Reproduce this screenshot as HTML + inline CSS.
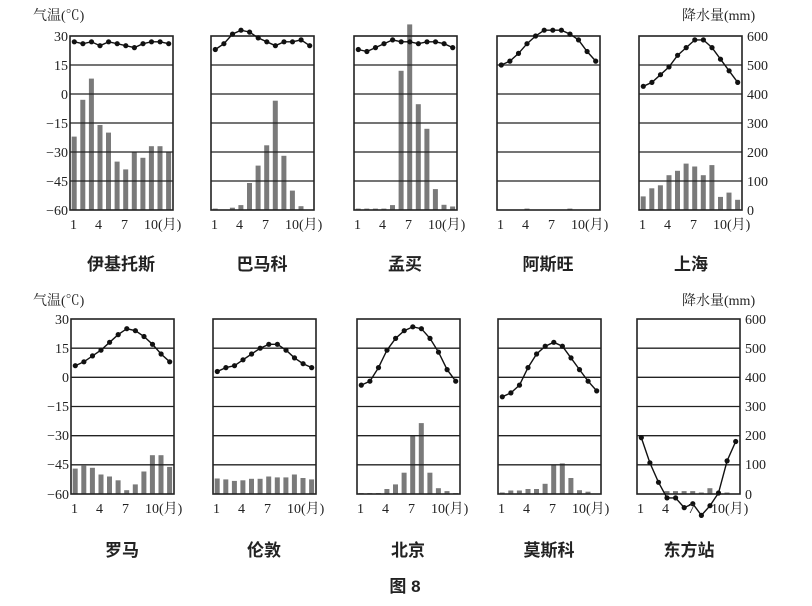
<!DOCTYPE html>
<html><head><meta charset="utf-8"><style>
html,body{margin:0;padding:0;background:#fff;}
svg{display:block;}
.ax{font-family:"Liberation Serif","Noto Serif CJK SC",serif;font-size:14px;fill:#222;}
.nm{font-family:"Liberation Sans","Noto Sans CJK SC",sans-serif;font-size:17px;font-weight:bold;fill:#222;}
</style></head><body>
<svg id="s" width="812" height="606" viewBox="0 0 812 606" xmlns="http://www.w3.org/2000/svg">
<g class="ax">
<text x="33" y="20">气温(℃)</text>
<text x="33" y="305">气温(℃)</text>
<text x="682" y="20">降水量(mm)</text>
<text x="682" y="305">降水量(mm)</text>
<g text-anchor="end">
<text x="68" y="41">30</text><text x="68" y="70">15</text><text x="68" y="99">0</text><text x="68" y="128">−15</text><text x="68" y="157">−30</text><text x="68" y="186">−45</text><text x="68" y="215">−60</text>
<text x="69" y="324">30</text><text x="69" y="353">15</text><text x="69" y="382">0</text><text x="69" y="411">−15</text><text x="69" y="440">−30</text><text x="69" y="469">−45</text><text x="69" y="499">−60</text>
</g>
<text x="747" y="41">600</text><text x="747" y="70">500</text><text x="747" y="99">400</text><text x="747" y="128">300</text><text x="747" y="157">200</text><text x="747" y="186">100</text><text x="747" y="215">0</text>
<text x="745" y="324">600</text><text x="745" y="353">500</text><text x="745" y="382">400</text><text x="745" y="411">300</text><text x="745" y="440">200</text><text x="745" y="469">100</text><text x="745" y="499">0</text>
</g>
<g class="nm" text-anchor="middle">
<text x="121" y="270">伊基托斯</text><text x="262" y="270">巴马科</text><text x="405" y="270">孟买</text><text x="548" y="270">阿斯旺</text><text x="691" y="270">上海</text>
<text x="122" y="556">罗马</text><text x="264" y="556">伦敦</text><text x="408" y="556">北京</text><text x="549" y="556">莫斯科</text><text x="689" y="556">东方站</text>
<text x="405" y="592">图 8</text>
</g>
<g id="tk" class="ax"></g>
<g id="g"></g>
</svg>
<script>
var P=[
[70,36,174,[27,26,27,25,27,26,25,24,26,27,27,26],[253,380,453,293,267,167,140,200,180,220,220,200]],
[211,36,174,[23,26,31,33,32,29,27,25,27,27,28,25],[5,0,8,17,93,153,223,377,187,67,13,0]],
[354,36,174,[23,22,24,26,28,27,27,26,27,27,26,24],[5,5,5,5,17,480,640,365,280,72,18,12]],
[497,36,174,[15,17,21,26,30,33,33,33,31,28,22,17],[0,0,0,5,0,0,0,0,5,0,0,0]],
[639,36,174,[4,6,10,14,20,24,28,28,24,18,12,6],[47,75,85,120,135,160,150,120,155,45,60,35]],
[71,319,175,[6,8,11,14,18,22,25,24,21,17,12,8],[87,97,90,67,60,47,13,33,77,133,133,93]],
[213,319,175,[3,5,6,9,12,15,17,17,14,10,7,5],[53,50,45,47,52,52,60,57,57,67,55,50]],
[357,319,175,[-4,-2,5,14,20,24,26,25,20,13,4,-2],[3,3,3,17,33,73,200,243,73,20,10,3]],
[498,319,175,[-10,-8,-4,5,12,16,18,16,10,4,-2,-7],[5,12,12,17,17,35,100,105,55,13,8,0]],
[637,319,175,[-31,-44,-54,-62,-62,-67,-65,-71,-66,-59.5,-43,-33],[0,0,0,10,10,10,10,5,20,5,5,0]]
];
var g=document.getElementById('g'),tk=document.getElementById('tk'),ns='http://www.w3.org/2000/svg',h='';
P.forEach(function(p){
 var x=p[0],y=p[1],H=p[2],W=103,st=W/12,b=y+H;
 p[4].forEach(function(v,i){ if(v<=0)return; var bh=v/600*H; h+='<rect x="'+(x+i*st+1.7).toFixed(1)+'" y="'+(b-bh).toFixed(1)+'" width="5" height="'+bh.toFixed(1)+'" fill="#7a7a7a"/>';});
 for(var k=1;k<6;k++){var yy=y+k*H/6;h+='<line x1="'+x+'" x2="'+(x+W)+'" y1="'+yy+'" y2="'+yy+'" stroke="#222" stroke-width="1.3"/>';}
 h+='<rect x="'+x+'" y="'+y+'" width="'+W+'" height="'+H+'" fill="none" stroke="#222" stroke-width="1.6"/>';
 var pts=p[3].map(function(t,i){return [(x+(i+0.5)*st).toFixed(1),(y+(30-t)/90*H).toFixed(1)];});
 h+='<polyline fill="none" stroke="#111" stroke-width="1.4" points="'+pts.map(function(q){return q.join(',')}).join(' ')+'"/>';
 pts.forEach(function(q){h+='<circle cx="'+q[0]+'" cy="'+q[1]+'" r="2.6" fill="#111"/>';});
});
g.innerHTML=h;
</script>
<svg width="0" height="0"></svg>
<div style="position:absolute;left:0;top:0;width:812px;height:606px;pointer-events:none">
<svg width="812" height="606" style="position:absolute;left:0;top:0">
<g class="ax">
<text x="70" y="229">1</text><text x="95" y="229">4</text><text x="121" y="229">7</text><text x="144" y="229">10(月)</text>
<text x="211" y="229">1</text><text x="236" y="229">4</text><text x="262" y="229">7</text><text x="285" y="229">10(月)</text>
<text x="354" y="229">1</text><text x="379" y="229">4</text><text x="405" y="229">7</text><text x="428" y="229">10(月)</text>
<text x="497" y="229">1</text><text x="522" y="229">4</text><text x="548" y="229">7</text><text x="571" y="229">10(月)</text>
<text x="639" y="229">1</text><text x="664" y="229">4</text><text x="690" y="229">7</text><text x="713" y="229">10(月)</text>
<text x="71" y="513">1</text><text x="96" y="513">4</text><text x="122" y="513">7</text><text x="145" y="513">10(月)</text>
<text x="213" y="513">1</text><text x="238" y="513">4</text><text x="264" y="513">7</text><text x="287" y="513">10(月)</text>
<text x="357" y="513">1</text><text x="382" y="513">4</text><text x="408" y="513">7</text><text x="431" y="513">10(月)</text>
<text x="498" y="513">1</text><text x="523" y="513">4</text><text x="549" y="513">7</text><text x="572" y="513">10(月)</text>
<text x="637" y="513">1</text><text x="662" y="513">4</text><text x="688" y="513">7</text><text x="711" y="513">10(月)</text>
</g>
</svg>
</div>
</body></html>
